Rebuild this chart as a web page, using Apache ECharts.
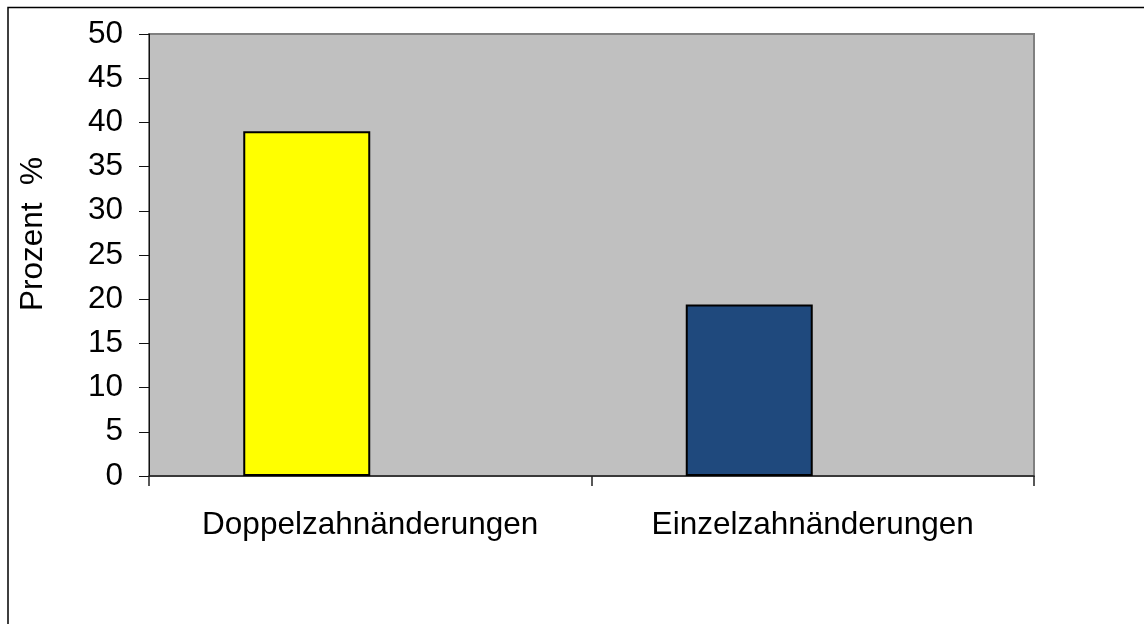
<!DOCTYPE html>
<html>
<head>
<meta charset="utf-8">
<script src="https://cdn.jsdelivr.net/npm/echarts@6/dist/echarts.min.js"></script>
<style>
html,body{margin:0;padding:0;background:#fff;}
#chart{width:1144px;height:624px;}
</style>
</head>
<body>
<div id="chart"></div>
<script>
var categories = ['Doppelzahnänderungen', 'Einzelzahnänderungen'];
var values = [39, 19.4];
var barColors = ['#FFFF00', '#1F497D'];
var emptySeries = [null, null];
var yAxisTitle = 'Prozent  %';

var chart = echarts.init(document.getElementById('chart'));
var fontFamily = '"Liberation Sans", Arial, sans-serif';
var fs = 31.5;
chart.setOption({
  animation: false,
  backgroundColor: '#ffffff',
  graphic: [
    {type: 'rect', shape: {x: 8, y: 7.5, width: 1300, height: 800},
     style: {fill: 'none', stroke: '#000', lineWidth: 1.5}, z: 100, silent: true},
    {type: 'text', x: 33, y: 234, rotation: Math.PI / 2,
     style: {text: yAxisTitle, font: fs + 'px ' + fontFamily, fill: '#000', align: 'center', verticalAlign: 'middle'}}
  ],
  grid: {
    left: 149, top: 34, right: 110, bottom: 148,
    show: true, backgroundColor: '#C0C0C0', borderColor: '#808080', borderWidth: 2
  },
  xAxis: {
    type: 'category',
    data: categories,
    axisLine: {lineStyle: {color: '#222', width: 1.5}},
    axisTick: {show: true, length: 10, lineStyle: {color: '#222', width: 1.5}},
    axisLabel: {color: '#000', fontSize: fs, fontFamily: fontFamily, margin: 33}
  },
  yAxis: {
    type: 'value', min: 0, max: 50, interval: 5,
    splitLine: {show: false},
    axisLine: {show: true, lineStyle: {color: '#111', width: 1}},
    axisTick: {show: true, length: 10, lineStyle: {color: '#111', width: 1}},
    axisLabel: {color: '#000', fontSize: fs, fontFamily: fontFamily, margin: 26}
  },
  series: [
    {
      type: 'bar',
      data: values.map(function (v, i) { return {value: v, itemStyle: {color: barColors[i]}}; }),
      barGap: '0%',
      barCategoryGap: '42.6%',
      itemStyle: {borderColor: '#000', borderWidth: 2}
    },
    {
      type: 'bar',
      data: emptySeries,
      barGap: '0%',
      barCategoryGap: '42.6%'
    }
  ]
});
</script>
</body>
</html>
